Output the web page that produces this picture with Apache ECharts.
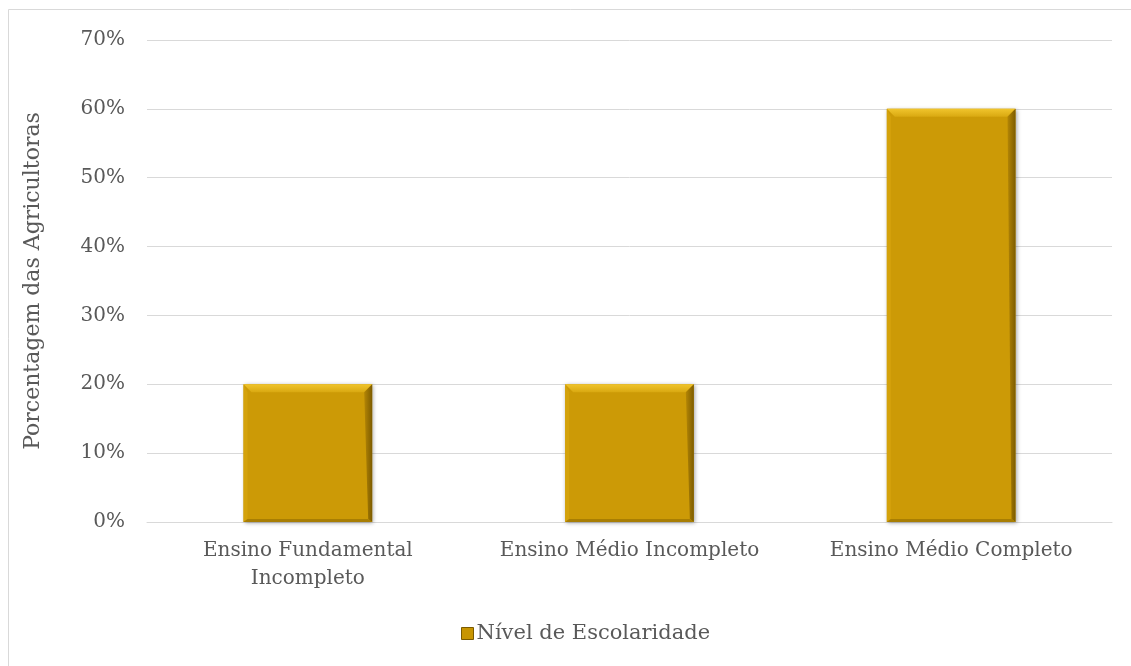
<!DOCTYPE html>
<html>
<head>
<meta charset="utf-8">
<script src="https://cdn.jsdelivr.net/npm/echarts@6/dist/echarts.min.js"></script>
<style>
  html, body { margin: 0; padding: 0; background: #fff; }
  #chart { width: 1131px; height: 666px; }
</style>
</head>
<body>
<div id="chart"></div>
<script>
// Education level of the women farmers (share of respondents, %)
const categories = ['Ensino Fundamental\nIncompleto', 'Ensino Médio Incompleto', 'Ensino Médio Completo'];
const values = [20, 20, 60];
const seriesName = 'Nível de Escolaridade';
const yAxisTitle = 'Porcentagem das Agricultoras';

const FONT = '"DejaVu Serif", "Liberation Serif", serif';
const TEXT = '#595959';
const BAR_RATIO = 0.4;   // bar width as a share of the category band

const chart = echarts.init(document.getElementById('chart'));

// Bevelled edges drawn over each bar, positioned from the same values
function renderBevel(params, api) {
  const idx = api.value(0);
  const top = api.coord([idx, api.value(1)]);
  const base = api.coord([idx, 0]);
  const w = api.size([1, 0])[0] * BAR_RATIO;
  const x0 = top[0] - w / 2, x1 = top[0] + w / 2;
  const y0 = top[1], y1 = base[1];
  const b = 8, s = 4, t = 3;
  return {
    type: 'group',
    children: [
      { type: 'polygon', shape: { points: [[x0, y0], [x1, y0], [x1 - b, y0 + b], [x0 + b, y0 + b]] },
        style: { fill: new echarts.graphic.LinearGradient(0, 0, 0, 1, [
          { offset: 0, color: '#f0c42c' }, { offset: 1, color: '#d9a810' }]) } },
      { type: 'polygon', shape: { points: [[x0, y0], [x0 + s, y0 + b], [x0 + s, y1 - t], [x0, y1]] },
        style: { fill: '#d4a20b' } },
      { type: 'polygon', shape: { points: [[x1, y0], [x1, y1], [x1 - s, y1 - t], [x1 - b, y0 + b]] },
        style: { fill: new echarts.graphic.LinearGradient(0, 0, 1, 0, [
          { offset: 0, color: '#b48605' }, { offset: 1, color: '#7d5c00' }]) } },
      { type: 'polygon', shape: { points: [[x0, y1], [x1, y1], [x1 - s, y1 - t], [x0 + s, y1 - t]] },
        style: { fill: '#a87e03' } }
    ]
  };
}

chart.setOption({
  animation: false,
  backgroundColor: '#fff',
  textStyle: { fontFamily: FONT },
  graphic: [{
    type: 'rect',
    shape: { x: 8.5, y: 9.5, width: 1140, height: 680 },
    style: { fill: 'none', stroke: '#d9d9d9', lineWidth: 1 },
    silent: true,
    z: -1
  }],
  grid: { left: 147, right: 19, top: 40, bottom: 144 },
  legend: {
    bottom: 17,
    left: 456,
    itemWidth: 12,
    itemHeight: 12,
    itemGap: 3,
    icon: 'rect',
    textStyle: { color: TEXT, fontSize: 21, fontFamily: FONT, padding: [0, 0, 0, -2] },
    data: [{ name: seriesName, itemStyle: { color: '#c89500', borderColor: '#7a5a00', borderWidth: 1 } }]
  },
  xAxis: {
    type: 'category',
    data: categories,
    axisLine: { show: true, lineStyle: { color: '#d9d9d9', width: 1 } },
    axisTick: { show: false },
    axisLabel: { color: TEXT, fontSize: 20, fontFamily: FONT, margin: 15, lineHeight: 28, interval: 0 }
  },
  yAxis: {
    type: 'value',
    min: 0,
    max: 70,
    interval: 10,
    name: yAxisTitle,
    nameLocation: 'middle',
    nameGap: 103,
    nameTextStyle: { color: TEXT, fontSize: 22, fontFamily: FONT },
    axisLine: { show: false },
    axisTick: { show: false },
    axisLabel: { color: TEXT, fontSize: 20, fontFamily: FONT, margin: 22, formatter: '{value}%' },
    splitLine: { lineStyle: { color: '#d9d9d9', width: 1 } }
  },
  series: [{
    name: seriesName,
    type: 'bar',
    data: values,
    barCategoryGap: '60%',
    itemStyle: {
      color: '#cc9a06',
      shadowColor: 'rgba(0,0,0,0.35)',
      shadowBlur: 4,
      shadowOffsetX: 1,
      shadowOffsetY: 1
    }
  }, {
    name: seriesName,
    type: 'custom',
    data: values.map((v, i) => [i, v]),
    renderItem: renderBevel,
    silent: true,
    z: 3
  }]
});
</script>
</body>
</html>
